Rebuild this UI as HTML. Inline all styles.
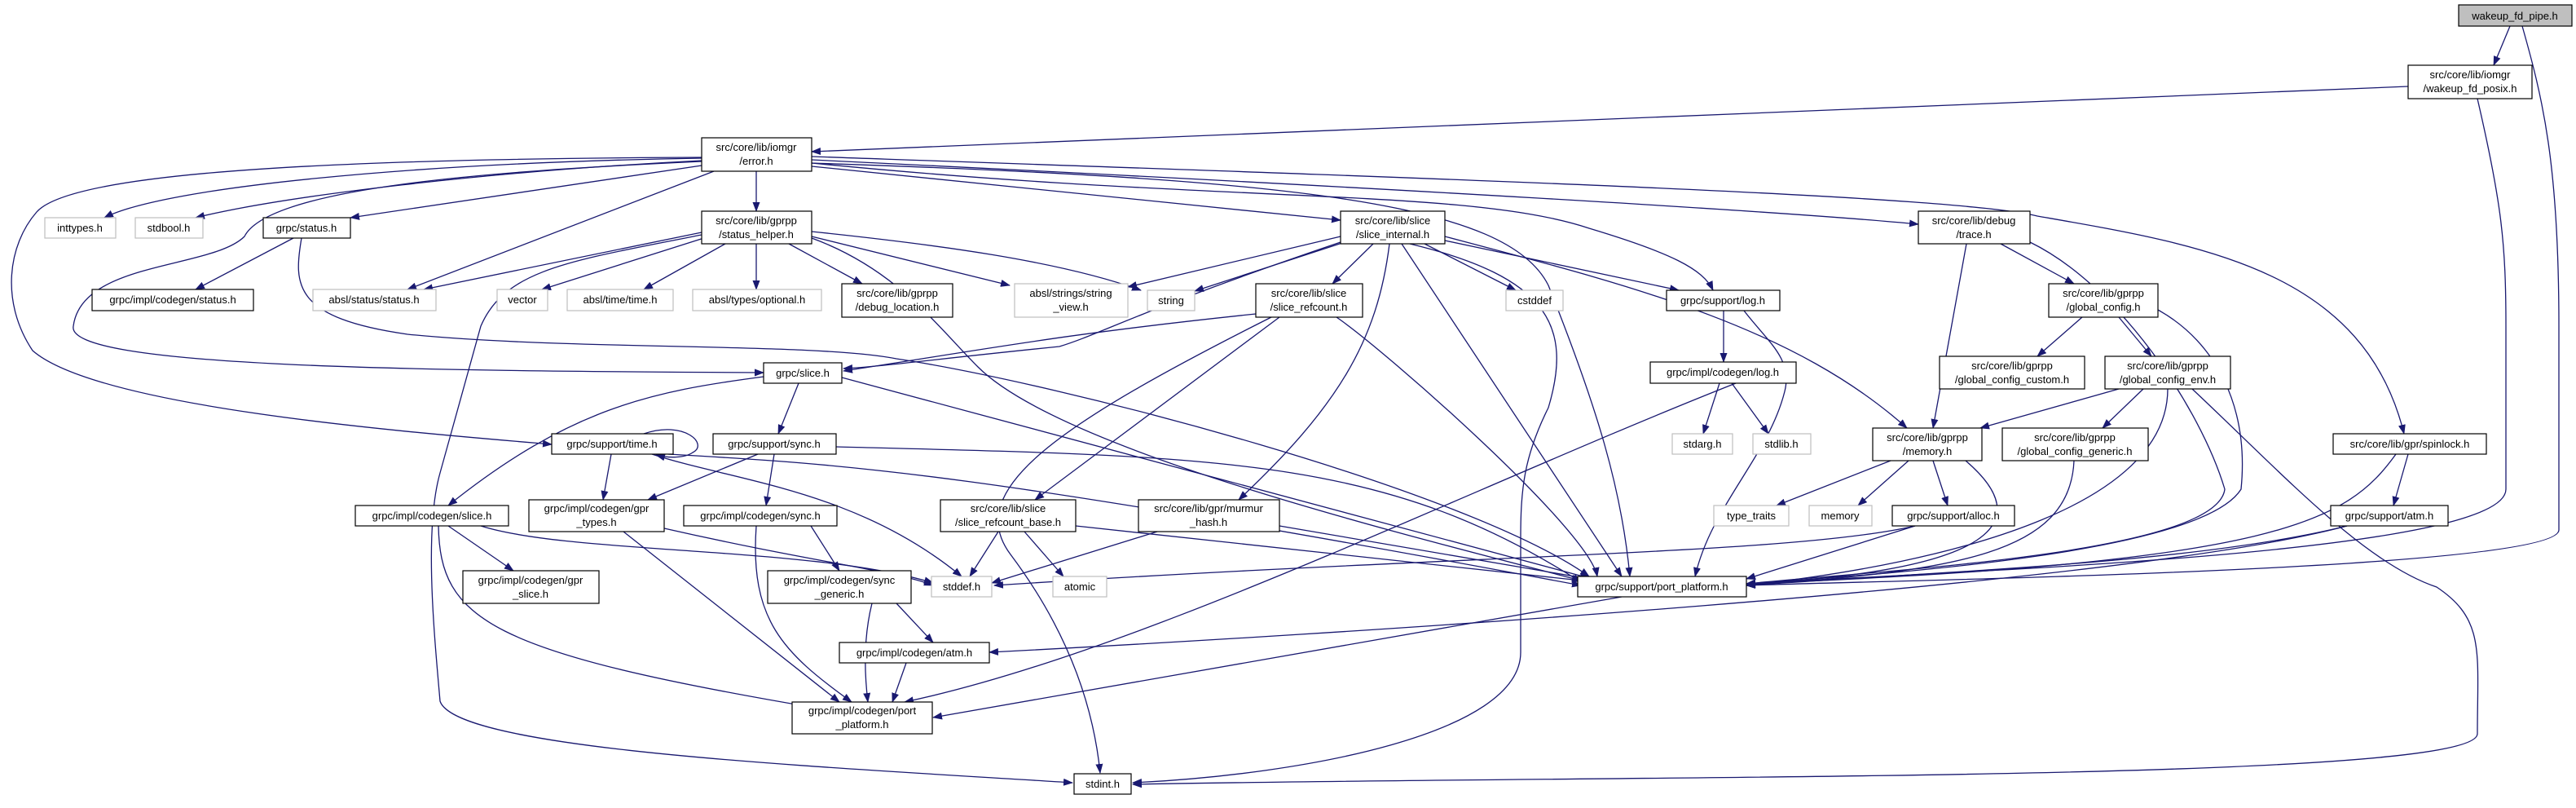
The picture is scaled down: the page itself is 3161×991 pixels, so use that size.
<!DOCTYPE html>
<html><head><meta charset="utf-8"><style>
html,body{margin:0;padding:0;background:#fff;}
svg{display:block;}
text{font-family:"Liberation Sans",sans-serif;font-size:13px;fill:#000;}
.e{fill:none;stroke:#191970;stroke-width:1.3;marker-end:url(#a);}
.n{fill:#fff;stroke:#000;stroke-width:1.2;}
.g{fill:#fff;stroke:#bfbfbf;stroke-width:1.2;}
</style></head><body>
<svg width="3161" height="991" viewBox="0 0 3161 991" xmlns="http://www.w3.org/2000/svg">
<defs><marker id="a" markerWidth="12" markerHeight="9" refX="11" refY="4.5" orient="auto" markerUnits="userSpaceOnUse"><polygon points="0,0 12,4.5 0,9" fill="#191970"/></marker></defs>
<g>
<path class="e" d="M3080,32 L3060,80"/>
<path class="e" d="M3095,32 C3120,120 3140,200 3140,400 L3140,650 C3140,700 2300,712 2143,718"/>
<path class="e" d="M2955,106 L996,186"/>
<path class="e" d="M3040,121 C3070,250 3075,300 3075,400 L3075,600 C3075,680 2400,700 2143,716"/>
<path class="e" d="M861,194 C500,200 200,230 128,267"/>
<path class="e" d="M861,197 C600,210 350,240 240,267"/>
<path class="e" d="M861,203 L430,267"/>
<path class="e" d="M876,210 L500,355"/>
<path class="e" d="M928,210 L928,259"/>
<path class="e" d="M861,198 C600,210 330,230 300,290 C260,330 100,320 90,400 C80,450 500,455 937,457"/>
<path class="e" d="M861,193 C300,195 80,220 45,260 C10,300 0,370 40,430 C120,500 500,530 677,545"/>
<path class="e" d="M996,196 C1700,230 2200,260 2354,275"/>
<path class="e" d="M996,192 C1800,220 2400,240 2500,265 C2700,300 2900,330 2950,532"/>
<path class="e" d="M996,200 C1500,250 1800,230 1950,280 C2050,310 2090,330 2102,356"/>
<path class="e" d="M996,200 C1600,220 1850,250 1900,350 C1960,500 1990,600 2000,707"/>
<path class="e" d="M996,204 L1645,270"/>
<path class="e" d="M360,292 L240,355"/>
<path class="e" d="M370,292 C360,350 360,390 500,410 C700,430 1000,420 1100,440 C1300,470 1800,600 1950,707"/>
<path class="e" d="M861,285 L520,355"/>
<path class="e" d="M870,290 L665,355"/>
<path class="e" d="M890,299 L790,355"/>
<path class="e" d="M928,299 L928,355"/>
<path class="e" d="M968,299 L1058,348"/>
<path class="e" d="M996,290 L1239,350"/>
<path class="e" d="M996,284 C1150,300 1300,320 1400,356"/>
<path class="e" d="M996,292 C1100,330 1150,400 1200,450 C1300,550 1700,650 1940,712"/>
<path class="e" d="M861,288 C700,320 620,330 590,400 L540,580 C520,650 533,780 540,860 C560,920 1000,940 1316,960"/>
<path class="e" d="M1645,290 L1384,352"/>
<path class="e" d="M1650,297 L1466,357"/>
<path class="e" d="M1645,297 C1400,380 1350,410 1300,425 C1150,440 1080,450 1035,452"/>
<path class="e" d="M1685,299 L1635,348"/>
<path class="e" d="M1705,299 C1690,420 1640,500 1520,613"/>
<path class="e" d="M1720,299 L1990,707"/>
<path class="e" d="M1730,299 C1900,340 1930,400 1900,500 C1870,560 1866,600 1866,660 L1866,800 C1866,900 1600,950 1390,960"/>
<path class="e" d="M1748,299 L1860,356"/>
<path class="e" d="M1773,295 L2060,356"/>
<path class="e" d="M1773,290 C2000,350 2200,400 2340,525"/>
<path class="e" d="M1570,389 L1270,613"/>
<path class="e" d="M1541,385 C1300,410 1200,430 1035,455"/>
<path class="e" d="M1560,389 C1300,520 1180,600 1240,680 C1300,760 1340,850 1350,948"/>
<path class="e" d="M1640,389 C1700,430 1950,650 1960,707"/>
<path class="e" d="M2115,381 L2115,444"/>
<path class="e" d="M2140,381 C2170,420 2200,440 2190,480 C2170,560 2100,620 2080,707"/>
<path class="e" d="M2110,470 L2090,532"/>
<path class="e" d="M2125,470 L2170,532"/>
<path class="e" d="M2130,470 C1800,600 1400,800 1110,861"/>
<path class="e" d="M2455,299 L2545,348"/>
<path class="e" d="M2413,299 L2372,525"/>
<path class="e" d="M2491,297 C2600,350 2700,500 2730,600 C2720,680 2300,700 2143,716"/>
<path class="e" d="M2555,389 L2500,437"/>
<path class="e" d="M2600,389 L2640,437"/>
<path class="e" d="M2648,380 C2720,420 2760,500 2750,600 C2700,680 2300,705 2143,716"/>
<path class="e" d="M2600,477 L2430,525"/>
<path class="e" d="M2630,477 L2580,525"/>
<path class="e" d="M2660,477 C2660,620 2400,690 2143,718"/>
<path class="e" d="M2690,477 C2800,580 2900,690 2990,720 C3050,760 3040,800 3040,900 C3040,960 2000,950 1390,962"/>
<path class="e" d="M2545,565 C2540,680 2400,700 2143,718"/>
<path class="e" d="M2320,565 L2180,620"/>
<path class="e" d="M2342,565 L2280,620"/>
<path class="e" d="M2372,565 L2390,620"/>
<path class="e" d="M2412,565 C2500,640 2450,700 2143,716"/>
<path class="e" d="M2350,645 C2200,680 1800,680 1220,718"/>
<path class="e" d="M2350,645 L2143,710"/>
<path class="e" d="M2955,557 L2937,620"/>
<path class="e" d="M2940,557 C2880,640 2800,690 2143,716"/>
<path class="e" d="M2880,645 C2700,690 2400,700 2143,718"/>
<path class="e" d="M2880,645 C2600,720 1600,780 1214,800"/>
<path class="e" d="M1990,732 L1145,880"/>
<path class="e" d="M937,462 C800,480 700,500 550,620"/>
<path class="e" d="M980,470 L955,532"/>
<path class="e" d="M1033,463 L1950,709"/>
<path class="e" d="M750,557 L740,613"/>
<path class="e" d="M800,557 C900,590 1050,600 1180,707"/>
<path class="e" d="M820,557 C1050,570 1200,580 1940,718"/>
<path class="e" d="M790,532 C840,515 870,545 850,555 C840,562 820,562 805,558"/>
<path class="e" d="M930,557 L795,613"/>
<path class="e" d="M950,557 L940,620"/>
<path class="e" d="M1026,548 C1500,560 1700,560 1940,714"/>
<path class="e" d="M550,645 L630,700"/>
<path class="e" d="M590,645 C700,680 1000,670 1145,715"/>
<path class="e" d="M538,645 C540,760 600,800 1000,868"/>
<path class="e" d="M815,648 C1000,690 1100,700 1145,718"/>
<path class="e" d="M765,652 L1030,861"/>
<path class="e" d="M995,645 L1030,700"/>
<path class="e" d="M928,645 C920,760 960,800 1045,861"/>
<path class="e" d="M1100,740 L1145,788"/>
<path class="e" d="M1070,740 C1060,780 1060,820 1065,861"/>
<path class="e" d="M1112,813 L1095,861"/>
<path class="e" d="M1225,652 L1190,707"/>
<path class="e" d="M1257,652 L1305,707"/>
<path class="e" d="M1320,645 L1940,712"/>
<path class="e" d="M1420,652 L1217,715"/>
<path class="e" d="M1570,645 L1950,710"/>
</g>
<g>
<rect x="3017" y="6" width="139" height="26" fill="#bfbfbf" stroke="#000" stroke-width="1.2"/><text x="3086" y="24" text-anchor="middle">wakeup_fd_pipe.h</text>
<rect class="n" x="2955" y="80" width="152" height="41"/><text x="3031" y="96" text-anchor="middle">src/core/lib/iomgr</text><text x="3031" y="113" text-anchor="middle">/wakeup_fd_posix.h</text>
<rect class="n" x="861" y="169" width="135" height="41"/><text x="928" y="185" text-anchor="middle">src/core/lib/iomgr</text><text x="928" y="202" text-anchor="middle">/error.h</text>
<rect class="g" x="55" y="267" width="87" height="25"/><text x="98" y="284" text-anchor="middle">inttypes.h</text>
<rect class="g" x="166" y="267" width="83" height="25"/><text x="207" y="284" text-anchor="middle">stdbool.h</text>
<rect class="n" x="323" y="267" width="107" height="25"/><text x="376" y="284" text-anchor="middle">grpc/status.h</text>
<rect class="n" x="861" y="259" width="135" height="40"/><text x="928" y="275" text-anchor="middle">src/core/lib/gprpp</text><text x="928" y="292" text-anchor="middle">/status_helper.h</text>
<rect class="n" x="1645" y="259" width="128" height="40"/><text x="1709" y="275" text-anchor="middle">src/core/lib/slice</text><text x="1709" y="292" text-anchor="middle">/slice_internal.h</text>
<rect class="n" x="2354" y="259" width="137" height="40"/><text x="2422" y="275" text-anchor="middle">src/core/lib/debug</text><text x="2422" y="292" text-anchor="middle">/trace.h</text>
<rect class="n" x="113" y="355" width="198" height="26"/><text x="212" y="372" text-anchor="middle">grpc/impl/codegen/status.h</text>
<rect class="g" x="384" y="355" width="151" height="26"/><text x="459" y="372" text-anchor="middle">absl/status/status.h</text>
<rect class="g" x="610" y="355" width="62" height="26"/><text x="641" y="372" text-anchor="middle">vector</text>
<rect class="g" x="696" y="355" width="130" height="26"/><text x="761" y="372" text-anchor="middle">absl/time/time.h</text>
<rect class="g" x="850" y="355" width="158" height="26"/><text x="929" y="372" text-anchor="middle">absl/types/optional.h</text>
<rect class="n" x="1033" y="348" width="136" height="41"/><text x="1101" y="364" text-anchor="middle">src/core/lib/gprpp</text><text x="1101" y="381" text-anchor="middle">/debug_location.h</text>
<rect class="g" x="1245" y="348" width="139" height="41"/><text x="1314" y="364" text-anchor="middle">absl/strings/string</text><text x="1314" y="381" text-anchor="middle">_view.h</text>
<rect class="g" x="1408" y="356" width="58" height="25"/><text x="1437" y="373" text-anchor="middle">string</text>
<rect class="n" x="1541" y="348" width="131" height="41"/><text x="1606" y="364" text-anchor="middle">src/core/lib/slice</text><text x="1606" y="381" text-anchor="middle">/slice_refcount.h</text>
<rect class="g" x="1848" y="356" width="70" height="25"/><text x="1883" y="373" text-anchor="middle">cstddef</text>
<rect class="n" x="2045" y="356" width="139" height="25"/><text x="2114" y="373" text-anchor="middle">grpc/support/log.h</text>
<rect class="n" x="2514" y="348" width="134" height="41"/><text x="2581" y="364" text-anchor="middle">src/core/lib/gprpp</text><text x="2581" y="381" text-anchor="middle">/global_config.h</text>
<rect class="n" x="937" y="445" width="96" height="25"/><text x="985" y="462" text-anchor="middle">grpc/slice.h</text>
<rect class="n" x="2025" y="444" width="179" height="26"/><text x="2114" y="461" text-anchor="middle">grpc/impl/codegen/log.h</text>
<rect class="n" x="2380" y="437" width="178" height="40"/><text x="2469" y="453" text-anchor="middle">src/core/lib/gprpp</text><text x="2469" y="470" text-anchor="middle">/global_config_custom.h</text>
<rect class="n" x="2583" y="437" width="154" height="40"/><text x="2660" y="453" text-anchor="middle">src/core/lib/gprpp</text><text x="2660" y="470" text-anchor="middle">/global_config_env.h</text>
<rect class="n" x="677" y="532" width="149" height="25"/><text x="751" y="549" text-anchor="middle">grpc/support/time.h</text>
<rect class="n" x="875" y="532" width="151" height="25"/><text x="950" y="549" text-anchor="middle">grpc/support/sync.h</text>
<rect class="g" x="2052" y="532" width="74" height="25"/><text x="2089" y="549" text-anchor="middle">stdarg.h</text>
<rect class="g" x="2151" y="532" width="71" height="25"/><text x="2186" y="549" text-anchor="middle">stdlib.h</text>
<rect class="n" x="2298" y="525" width="134" height="40"/><text x="2365" y="541" text-anchor="middle">src/core/lib/gprpp</text><text x="2365" y="558" text-anchor="middle">/memory.h</text>
<rect class="n" x="2457" y="525" width="179" height="40"/><text x="2546" y="541" text-anchor="middle">src/core/lib/gprpp</text><text x="2546" y="558" text-anchor="middle">/global_config_generic.h</text>
<rect class="n" x="2863" y="532" width="188" height="25"/><text x="2957" y="549" text-anchor="middle">src/core/lib/gpr/spinlock.h</text>
<rect class="n" x="436" y="620" width="188" height="25"/><text x="530" y="637" text-anchor="middle">grpc/impl/codegen/slice.h</text>
<rect class="n" x="649" y="613" width="166" height="39"/><text x="732" y="628" text-anchor="middle">grpc/impl/codegen/gpr</text><text x="732" y="645" text-anchor="middle">_types.h</text>
<rect class="n" x="839" y="620" width="188" height="25"/><text x="933" y="637" text-anchor="middle">grpc/impl/codegen/sync.h</text>
<rect class="n" x="1154" y="613" width="166" height="39"/><text x="1237" y="628" text-anchor="middle">src/core/lib/slice</text><text x="1237" y="645" text-anchor="middle">/slice_refcount_base.h</text>
<rect class="n" x="1397" y="613" width="173" height="39"/><text x="1483" y="628" text-anchor="middle">src/core/lib/gpr/murmur</text><text x="1483" y="645" text-anchor="middle">_hash.h</text>
<rect class="g" x="2103" y="620" width="92" height="25"/><text x="2149" y="637" text-anchor="middle">type_traits</text>
<rect class="g" x="2220" y="620" width="77" height="25"/><text x="2258" y="637" text-anchor="middle">memory</text>
<rect class="n" x="2322" y="620" width="150" height="25"/><text x="2397" y="637" text-anchor="middle">grpc/support/alloc.h</text>
<rect class="n" x="2860" y="620" width="144" height="25"/><text x="2932" y="637" text-anchor="middle">grpc/support/atm.h</text>
<rect class="n" x="568" y="700" width="167" height="40"/><text x="651" y="716" text-anchor="middle">grpc/impl/codegen/gpr</text><text x="651" y="733" text-anchor="middle">_slice.h</text>
<rect class="n" x="942" y="700" width="176" height="40"/><text x="1030" y="716" text-anchor="middle">grpc/impl/codegen/sync</text><text x="1030" y="733" text-anchor="middle">_generic.h</text>
<rect class="g" x="1143" y="707" width="74" height="25"/><text x="1180" y="724" text-anchor="middle">stddef.h</text>
<rect class="g" x="1292" y="707" width="66" height="25"/><text x="1325" y="724" text-anchor="middle">atomic</text>
<rect class="n" x="1936" y="707" width="207" height="25"/><text x="2039" y="724" text-anchor="middle">grpc/support/port_platform.h</text>
<rect class="n" x="1030" y="788" width="184" height="25"/><text x="1122" y="805" text-anchor="middle">grpc/impl/codegen/atm.h</text>
<rect class="n" x="972" y="861" width="172" height="39"/><text x="1058" y="876" text-anchor="middle">grpc/impl/codegen/port</text><text x="1058" y="893" text-anchor="middle">_platform.h</text>
<rect class="n" x="1318" y="949" width="70" height="25"/><text x="1353" y="966" text-anchor="middle">stdint.h</text>
</g>
</svg>
</body></html>
